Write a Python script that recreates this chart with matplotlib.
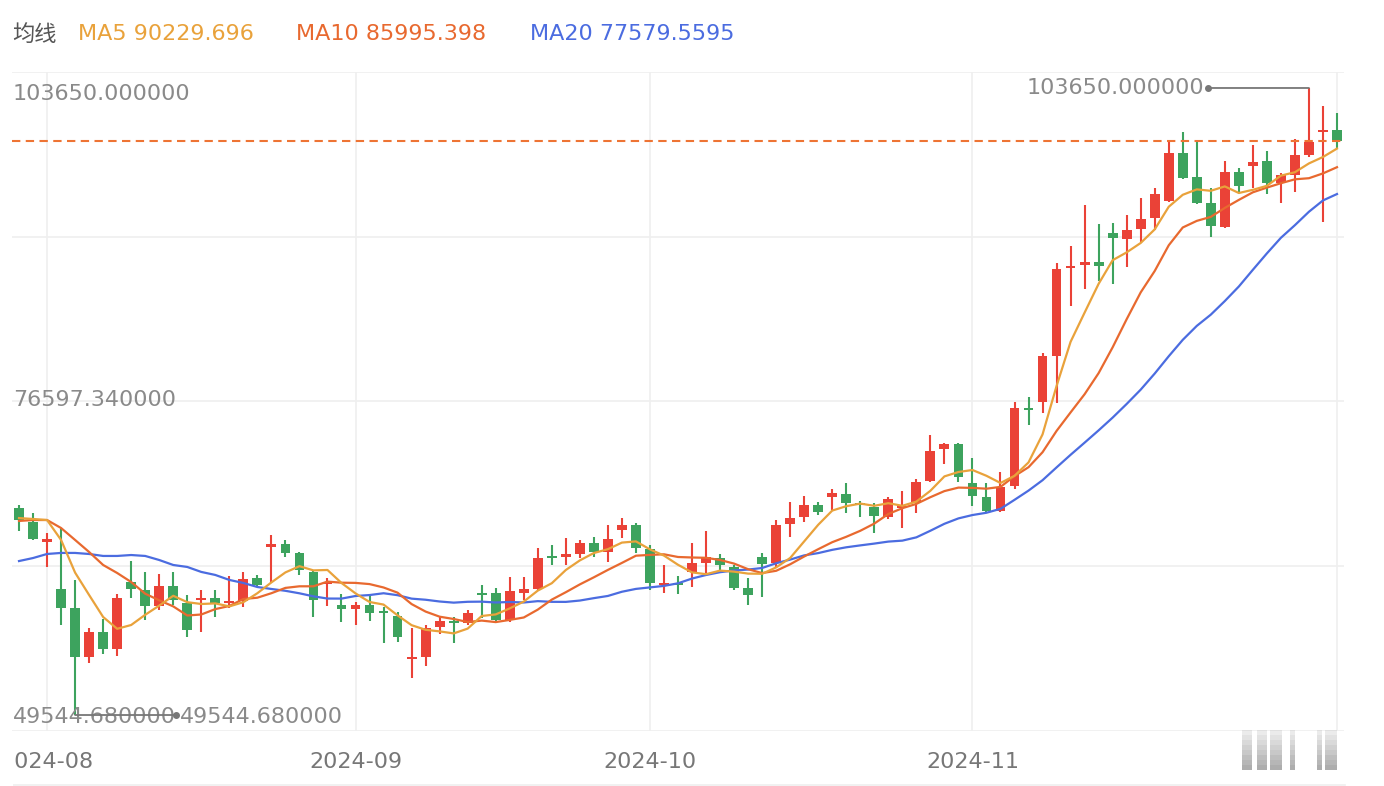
import numpy as np
import pandas as pd
import matplotlib.pyplot as plt
import matplotlib.transforms as mtransforms
from matplotlib.patches import Rectangle

plt.rcParams['font.family'] = ['DejaVu Sans', 'Noto Sans CJK SC']

# daily candles, 2024-07 end .. 2024-12 start
opens = [67410, 66200, 64470, 60420, 58780, 54550, 56710, 55240, 61020, 60330,
         58950, 60680, 59210, 59470, 59640, 59210, 59380, 61370, 64040, 64300,
         63530, 61890, 60850, 59040, 58690, 59040, 58430, 58090, 54380, 54550,
         57140, 57570, 57480, 60070, 60070, 57740, 60070, 60420, 63270, 63180,
         63440, 64390, 63610, 65510, 65940, 63870, 60760, 60940, 61890, 62660,
         63090, 62320, 60500, 63180, 62660, 66030, 66630, 67670, 68360, 68620,
         67840, 67490, 66630, 67410, 67840, 69740, 72500, 72930, 69570, 68360,
         67150, 69310, 76040, 76550, 80520, 88120, 88380, 88640, 91140, 90620,
         91480, 92430, 93900, 98040, 95970, 93730, 91660, 96400, 96920, 97350,
         95450, 96140, 97870, 99850, 100030]
highs = [67670, 66980, 65250, 65680, 61200, 57050, 57830, 59990, 62830, 61890,
         61710, 61890, 59900, 60330, 60330, 61540, 61890, 61630, 65080, 64650,
         63600, 61950, 61370, 59990, 59300, 59900, 58870, 58430, 57050, 57310,
         58090, 58000, 58610, 60760, 60500, 61450, 61450, 63960, 64220, 64820,
         64650, 64910, 65940, 66550, 66110, 64220, 62490, 61540, 64390, 65420,
         63440, 62490, 61370, 63530, 66370, 67930, 68440, 67930, 69050, 69570,
         68010, 67840, 68360, 68880, 69910, 73710, 73020, 73020, 71720, 69570,
         70510, 76550, 76990, 80780, 88550, 90020, 93550, 91910, 92000, 92690,
         94160, 95020, 98990, 99850, 98990, 95020, 97350, 96750, 98730, 98210,
         96320, 99250, 103650, 102100, 101490]
lows = [65420, 64650, 62320, 57310, 49544.68, 54030, 54810, 54640, 59640, 57740,
        58610, 59040, 56280, 56710, 58000, 58780, 58870, 60590, 60940, 63180,
        61630, 58000, 58950, 57570, 57310, 57660, 55760, 55850, 52740, 53770,
        56540, 55760, 57310, 57920, 57480, 57570, 59470, 60330, 62490, 62490,
        63090, 63180, 62750, 64820, 63530, 60330, 60070, 59990, 60590, 61800,
        62060, 60330, 59040, 59730, 62320, 64910, 66200, 66800, 67240, 66980,
        66630, 65250, 66460, 65680, 66980, 69650, 71200, 69650, 67580, 67060,
        67060, 69050, 74570, 75610, 76470, 84840, 86310, 87000, 86740, 88200,
        90360, 91400, 93810, 95800, 93640, 90790, 91570, 94680, 95020, 94500,
        93730, 94680, 97700, 92090, 98470]
closes = [66370, 64730, 64730, 58780, 54550, 56710, 55240, 59640, 60420, 58950,
          60680, 59470, 56880, 59640, 59210, 59380, 61280, 60760, 64300, 63530,
          62060, 59470, 60940, 58690, 59040, 58350, 58350, 56280, 54460, 57050,
          57660, 57480, 58350, 59900, 57740, 60250, 60420, 63090, 63090, 63440,
          64390, 63610, 64730, 65940, 63960, 60940, 60940, 60760, 62660, 63180,
          62490, 60500, 59900, 62580, 65940, 66550, 67670, 67060, 68700, 67840,
          67670, 66720, 68180, 67580, 69650, 72330, 72930, 70080, 68440, 67150,
          69220, 76040, 75860, 80520, 88030, 88290, 88640, 88290, 90710, 91400,
          92350, 94500, 98040, 95880, 93730, 91740, 96400, 95190, 97260, 95450,
          96140, 97870, 98990, 100030, 99080]

# MA values before the windows are full (earlier data not shown)
ma5_head = [66540, 66460, 66370, 64650]
ma10_head = [66290, 66370, 66370, 65680, 64650, 63610, 62490, 61800, 61020]
ma20_head = [62830, 63090, 63440, 63530, 63530, 63440, 63270, 63270, 63350, 63270,
             62920, 62490, 62320, 61890, 61630, 61200, 60940, 60590, 60420]

month_idx = [2, 24, 45, 68, 94]
month_labels = ["2024-08", "2024-09", "2024-10", "2024-11", ""]
legend_items = [("MA5 90229.696", "#E9A23B"), ("MA10 85995.398", "#E8692F"),
                ("MA20 77579.5595", "#4B6CE0")]

RED = "#EA4237"
GREEN = "#3DA35E"
GRAY = "#8A8A8A"

o, h, l, c = (np.array(a, dtype=float) for a in (opens, highs, lows, closes))
x = np.arange(len(c))
up = c >= o
cols = np.where(up, RED, GREEN)


def moving_avg(n, head):
    m = pd.Series(c).rolling(n).mean().to_numpy()
    m[:len(head)] = head
    return m


ma5 = moving_avg(5, ma5_head)
ma10 = moving_avg(10, ma10_head)
ma20 = moving_avg(20, ma20_head)

fig = plt.figure(figsize=(13.84, 7.86), dpi=100)
ax = fig.add_axes([12 / 1384, 55 / 786, 1332 / 1384, 659 / 786])

hi, lo = h.max(), l.min()
pad = (hi - lo) * 0.0255
ax.set_ylim(lo - pad, hi + pad)
ax.set_xlim(-0.5, len(c) - 0.5)
for spine in ax.spines.values():
    spine.set_visible(False)
ax.set_xticks([])
ax.set_yticks([])

# grid
for yv in np.linspace(lo - pad, hi + pad, 5):
    ax.axhline(yv, color="#EFEFEF", lw=1.2, zorder=0)
for mi in month_idx:
    ax.axvline(mi, color="#EFEFEF", lw=1.2, zorder=0)

# candles
ax.vlines(x, l, h, colors=cols, lw=1.5, zorder=2)
body = np.maximum(np.abs(c - o), 200)
bottom = np.minimum(o, c)
ax.bar(x, body, bottom=bottom, width=0.7, color=cols, lw=0, zorder=3)

# moving averages
ax.plot(x, ma20, color=legend_items[2][1], lw=1.6, zorder=4)
ax.plot(x, ma10, color=legend_items[1][1], lw=1.6, zorder=4)
ax.plot(x, ma5, color=legend_items[0][1], lw=1.6, zorder=4)

# last price line
ax.axhline(c[-1], color="#EE7434", lw=1.5, dashes=(4, 2.6), zorder=5)

# y labels (max / mid / min)
for val, dy in [(hi, -6), ((hi + lo) / 2, 2), (lo, -2)]:
    tr = mtransforms.offset_copy(ax.transData, fig, x=0, y=dy, units="dots")
    ax.text(-0.45, val, f"{val:.6f}", transform=tr, ha="left", va="center",
            fontsize=16, color=GRAY, zorder=6)

# max / min markers
ih, il = int(np.argmax(h)), int(np.argmin(l))
for idx, val, sgn in [(ih, hi, -1), (il, lo, 1)]:
    tr_dot = mtransforms.offset_copy(ax.transData, fig, x=sgn * 101, y=0, units="dots")
    ax.annotate("", xy=(idx, val), xytext=(sgn * 101, 0), textcoords="offset pixels",
                arrowprops=dict(arrowstyle="-", color="#777777", lw=1.3,
                                shrinkA=0, shrinkB=0), zorder=6)
    ax.plot([idx], [val], marker="o", ms=4, color="#777777", transform=tr_dot,
            zorder=6, clip_on=False)
    ax.annotate(f"{val:.6f}", xy=(idx, val), xytext=(sgn * 105, -2 if sgn > 0 else 0),
                textcoords="offset pixels", ha="left" if sgn > 0 else "right",
                va="center", fontsize=16, color=GRAY, zorder=6)

# month labels
tr_x = mtransforms.blended_transform_factory(ax.transData, fig.transFigure)
for mi, lab in zip(month_idx, month_labels):
    ax.text(mi, 1 - 762 / 786, lab, transform=tr_x, ha="center", va="center",
            fontsize=16, color="#777777")
# first label is cut at the chart's left edge
fig.add_artist(Rectangle((0, 0), 13 / 1384, 50 / 786, transform=fig.transFigure,
                         color="white", lw=0, zorder=10))

fig.add_artist(plt.Line2D([12 / 1384, 1345 / 1384], [1 - 785 / 786] * 2,
                          transform=fig.transFigure, color="#EFEFEF", lw=1.2))

# watermark bars (bottom right), fading upwards
for x0, x1 in [(1242, 1252), (1257, 1267), (1270, 1282), (1290, 1295),
               (1317, 1322), (1325, 1337)]:
    for k in range(8):
        fig.add_artist(Rectangle((x0 / 1384, 1 - (770 - k * 5) / 786),
                                 (x1 - x0) / 1384, 5 / 786,
                                 transform=fig.transFigure, color="#6A6A6A",
                                 alpha=0.55 - k * 0.06, lw=0))

# header
yh = 1 - 34 / 786
fig.text(12 / 1384, yh, "均线", ha="left", va="center", fontsize=16, color="#555555")
for (lab, col), xp in zip(legend_items, [78, 296, 530]):
    fig.text(xp / 1384, yh, lab, ha="left", va="center", fontsize=16, color=col)

fig.savefig("out.png", dpi=100)
